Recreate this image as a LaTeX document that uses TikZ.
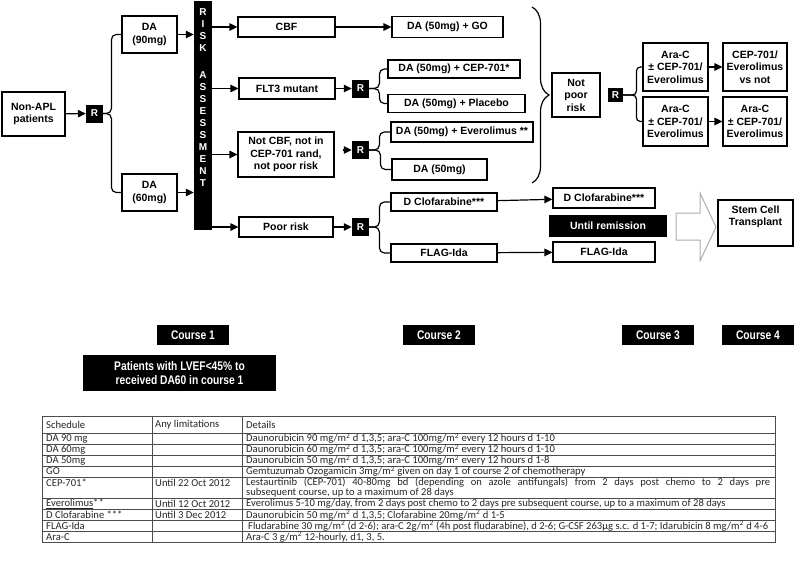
\documentclass[tikz,border=0pt]{standalone}
\usepackage{fontspec}
\setmainfont{Liberation Sans}
\newfontfamily\tabfont{Carlito}
\newfontfamily\narrowfont[FakeStretch=0.82]{Liberation Sans}
\usetikzlibrary{arrows.meta,decorations.pathreplacing}

\begin{document}
\begin{tikzpicture}[x=1pt,y=-1pt,
  box/.style={draw, line width=1.2pt, align=center, inner sep=1pt,
    font=\bfseries\fontsize{10.5}{12.5}\selectfont},
  wh/.style 2 args={minimum width=#1pt, minimum height=#2pt},
  rbox/.style={fill=black, text=white, inner sep=0pt, wh={17}{18},
    font=\bfseries\fontsize{10}{12}\selectfont},
  blackbox/.style={fill=black, text=white, inner sep=0pt, align=center},
  coursebox/.style={blackbox, wh={72}{20},
    font=\narrowfont\bfseries\fontsize{12.5}{14}\selectfont},
  risklet/.style={text=white, inner sep=0pt, font=\bfseries\fontsize{10}{12}\selectfont},
  conn/.style={line width=1.2pt},
  arr/.style={conn, -{Triangle[length=8pt,width=7.5pt]}},
  tcell/.style={anchor=west, inner sep=0pt, text=black!85,
    font=\tabfont\fontsize{10.6}{11}\selectfont}]
\useasboundingbox (0,0) rectangle (795,565);

% course 1
\node[box, wh={63}{44}] (nonapl) at (33.5,114) {Non-APL\\patients};
\node[rbox] (r1) at (94.5,113.5) {R};
\node[box, wh={55}{37}] (da90) at (149.5,34.5) {DA\\(90mg)};
\node[box, wh={55}{37}] (da60) at (149.5,192.5) {DA\\(60mg)};
\draw[arr] (nonapl) -- (r1);
\draw[conn, rounded corners=5pt] (r1.east) -| ([xshift=-10pt]da90.west) -- (da90.west);
\draw[conn, rounded corners=5pt] (r1.east) -| ([xshift=-10pt]da60.west) -- (da60.west);

% risk assessment bar
\node[fill=black, inner sep=0pt, wh={18}{229}] (riskbar) at (203,115.5) {};
\foreach \l [count=\i from 0] in {R,I,S,K}
  \node[risklet] (rk\i) at (203,{12+12*\i}) {\l};
\foreach \l [count=\i from 0] in {A,S,S,E,S,S,M,E,N,T}
  \node[risklet] (as\i) at (203,{75+12*\i}) {\l};
\draw[arr] (da90.east) -- (da90.east -| riskbar.west);
\draw[arr] (da60.east) -- (da60.east -| riskbar.west);

% course 2
\node[box, wh={97}{20}] (cbf) at (286.5,27) {CBF};
\node[box, wh={111}{21}] (go) at (447.5,27) {DA (50mg) + GO};
\node[box, wh={96}{21}] (flt) at (287,88.5) {FLT3 mutant};
\node[rbox] (r2) at (360.5,88.5) {R};
\node[box, wh={132}{18}] (cep) at (454,69) {DA (50mg) + CEP-701*};
\node[box, wh={137}{18}] (plac) at (456.5,103.5) {DA (50mg) + Placebo};
\node[box, wh={96}{45}] (notcbf) at (286,154.5) {Not CBF, not in\\CEP-701 rand,\\not poor risk};
\node[rbox] (r3) at (360.5,150) {R};
\node[box, wh={142}{20}] (evero) at (462,132) {DA (50mg) + Everolimus **};
\node[box, wh={95}{21}] (da50) at (439.5,169.5) {DA (50mg)};
\node[box, wh={94}{20}] (poor) at (286,227) {Poor risk};
\node[rbox] (r4) at (360.5,227) {R};
\node[box, wh={106}{18}] (clo1) at (444,202) {D Clofarabine***};
\node[box, wh={106}{18}] (flag1) at (444,253) {FLAG-Ida};

\draw[arr] (riskbar.east |- cbf.west) -- (cbf.west);
\draw[arr] (riskbar.east |- flt.west) -- (flt.west);
\draw[arr] (riskbar.east |- notcbf.west) -- (notcbf.west);
\draw[arr] (riskbar.east |- poor.west) -- (poor.west);
\draw[arr] (cbf) -- (go);
\draw[arr] (flt) -- (r2);
\draw[arr, shorten <=8pt] (notcbf.east |- r3.west) -- (r3.west);
\draw[arr] (poor) -- (r4);
\draw[conn, rounded corners=5pt] (r2.east) -| ([xshift=-8pt]cep.west) -- (cep.west);
\draw[conn, rounded corners=5pt] (r2.east) -| ([xshift=-8pt]plac.west) -- (plac.west);
\draw[conn, rounded corners=5pt] (r3.east) -| ([xshift=-11pt]evero.west) -- (evero.west);
\draw[conn, rounded corners=5pt] (r3.east) -| ([xshift=-11pt]da50.west) -- (da50.west);
\draw[conn, rounded corners=5pt] (r4.east) -| ([xshift=-11pt]clo1.west) -- (clo1.west);
\draw[conn, rounded corners=5pt] (r4.east) -| ([xshift=-11pt]flag1.west) -- (flag1.west);

% course 3
\coordinate (bt) at (532,7);
\coordinate (bb) at (532,183);
\draw[conn, decorate, decoration={brace, amplitude=17pt}] (bt) -- (bb);
\node[box, wh={48}{44}] (notpoor) at (576,95) {Not\\poor\\risk};
\node[rbox, wh={15}{14}] (r5) at (615.5,95) {R};
\node[box, wh={65}{48}] (arac1) at (675.5,67) {Ara-C\\± CEP-701/\\Everolimus};
\node[box, wh={65}{49}] (arac2) at (675.5,121.5) {Ara-C\\± CEP-701/\\Everolimus};
\draw[conn, rounded corners=4pt] (r5.east) -| ([xshift=-6pt]arac1.west) -- (arac1.west);
\draw[conn, rounded corners=4pt] (r5.east) -| ([xshift=-6pt]arac2.west) -- (arac2.west);

\node[box, wh={102}{20}] (clo2) at (604,198) {D Clofarabine***};
\node[blackbox, wh={118}{22}, font=\bfseries\fontsize{10.5}{12.5}\selectfont] (until) at (608,226) {Until remission};
\node[box, wh={102}{20}] (flag2) at (604,252) {FLAG-Ida};
\draw[arr] (clo1) -- (clo2);
\draw[arr] (flag1) -- (flag2);

% course 4
\node[box, wh={64}{48}] (cepvs) at (755,67) {CEP-701/\\Everolimus\\vs not};
\node[box, wh={64}{49}] (arac3) at (755,121.5) {Ara-C\\± CEP-701/\\Everolimus};
\draw[arr] (arac1) -- (cepvs);
\draw[arr] (arac2) -- (arac3);
\node[box, wh={75}{46}] (stem) at (755.5,223) {Stem Cell\\Transplant\\[2pt]\mbox{}};
\draw[gray!65, line width=1pt] (676,213) -- (700,213) -- (700,193) -- (716,227)
  -- (700,261) -- (700,240) -- (676,240) -- cycle;

% course labels
\node[coursebox] (c1) at (193,335) {Course 1};
\node[coursebox] (c2) at (439,335) {Course 2};
\node[coursebox] (c3) at (658,335) {Course 3};
\node[coursebox] (c4) at (758,335) {Course 4};
\node[coursebox, wh={193}{36}] (lvef) at (179.5,373) {Patients with LVEF<45\% to\\received DA60 in course 1};

% schedule table
\draw[black!70, line width=0.6pt] (42,416.5) rectangle (775,542.5);
\foreach \y in {433,444,455,466,477,498,509,520.5,531.5}
  \draw[black!70, line width=0.6pt] (42,\y) -- (775,\y);
\draw[black!70, line width=0.6pt] (152,416.5) -- (152,542.5);
\draw[black!70, line width=0.6pt] (242,416.5) -- (242,542.5);

\node[tcell] (ta0) at (46,424.7) {Schedule};
\node[tcell] (tb0) at (155,424.7) {Any limitations};
\node[tcell] (tc0) at (246,424.7) {Details};
\node[tcell] (ta1) at (46,438.5) {DA 90 mg};
\node[tcell] (tc1) at (246,438.5) {Daunorubicin 90 mg/m\textsuperscript{2} d 1,3,5; ara-C 100mg/m\textsuperscript{2} every 12 hours d 1-10};
\node[tcell] (ta2) at (46,449.5) {DA 60mg};
\node[tcell] (tc2) at (246,449.5) {Daunorubicin 60 mg/m\textsuperscript{2} d 1,3,5; ara-C 100mg/m\textsuperscript{2} every 12 hours d 1-10};
\node[tcell] (ta3) at (46,460.5) {DA 50mg};
\node[tcell] (tc3) at (246,460.5) {Daunorubicin 50 mg/m\textsuperscript{2} d 1,3,5; ara-C 100mg/m\textsuperscript{2} every 12 hours d 1-8};
\node[tcell] (ta4) at (46,471.5) {GO};
\node[tcell] (tc4) at (246,471.5) {Gemtuzumab Ozogamicin 3mg/m\textsuperscript{2} given on day 1 of course 2 of chemotherapy};
\node[tcell] (ta5) at (46,482.5) {CEP-701*};
\node[tcell] (tb5) at (155,482.5) {Until 22 Oct 2012};
\node[tcell] (tc5) at (246,482.5) {\makebox[524pt][s]{Lestaurtinib (CEP-701) 40-80mg bd (depending on azole antifungals) from 2 days post chemo to 2 days pre}};
\node[tcell] (td5) at (246,493) {subsequent course, up to a maximum of 28 days};
\node[tcell] (ta6) at (46,503.7) {\underline{Everolimus}**};
\node[tcell] (tb6) at (155,503.7) {Until 12 Oct 2012};
\node[tcell] (tc6) at (246,503.7) {Everolimus 5-10 mg/day, from 2 days post chemo to 2 days pre subsequent course, up to a maximum of 28 days};
\node[tcell] (ta7) at (46,514.8) {D Clofarabine ***};
\node[tcell] (tb7) at (155,514.8) {Until 3 Dec 2012};
\node[tcell] (tc7) at (246,514.8) {Daunorubicin 50 mg/m\textsuperscript{2} d 1,3,5; Clofarabine 20mg/m\textsuperscript{2} d 1-5};
\node[tcell] (ta8) at (46,526) {FLAG-Ida};
\node[tcell] (tc8) at (248,526) {Fludarabine 30 mg/m\textsuperscript{2} (d 2-6); ara-C 2g/m\textsuperscript{2} (4h post fludarabine), d 2-6; G-CSF 263μg s.c. d 1-7; Idarubicin 8 mg/m\textsuperscript{2} d 4-6};
\node[tcell] (ta9) at (46,537) {Ara-C};
\node[tcell] (tc9) at (246,537) {Ara-C 3 g/m\textsuperscript{2} 12-hourly, d1, 3, 5.};
\end{tikzpicture}
\end{document}
